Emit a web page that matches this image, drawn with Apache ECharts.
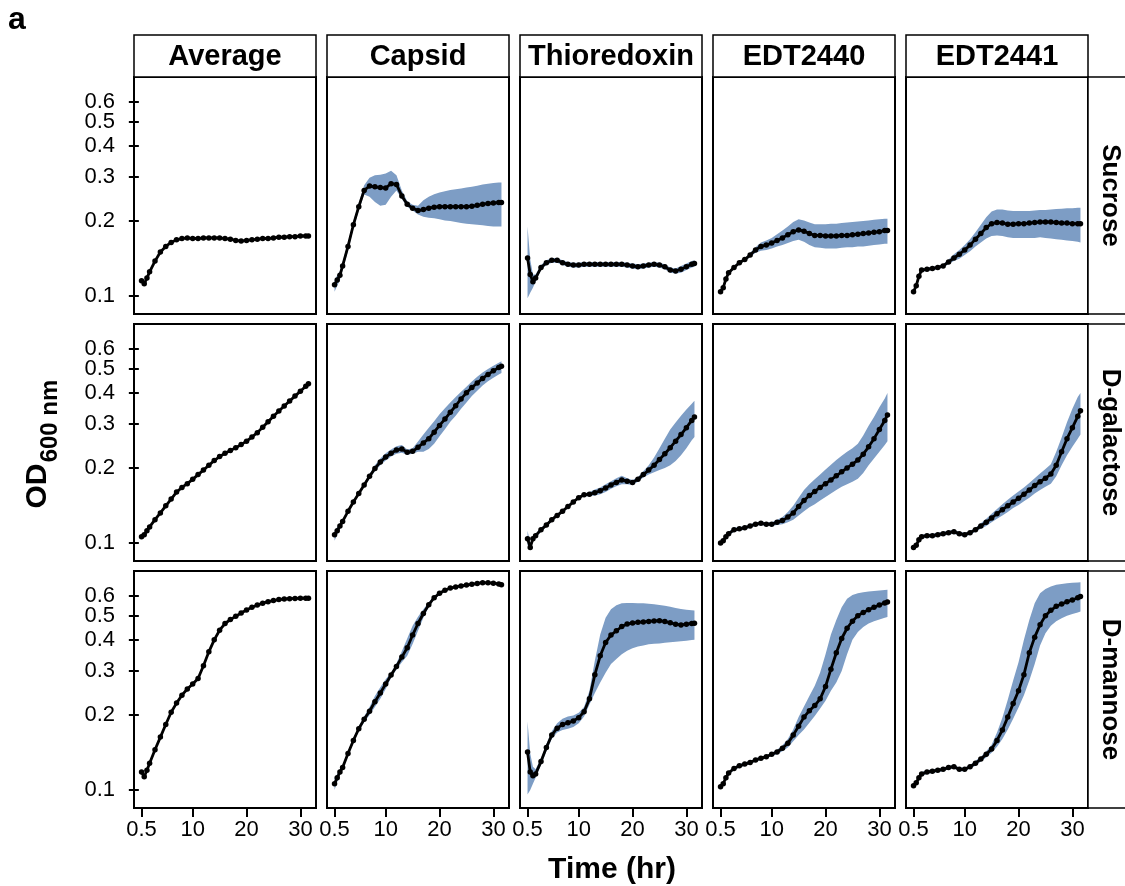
<!DOCTYPE html>
<html>
<head>
<meta charset="utf-8">
<script src="https://cdn.jsdelivr.net/npm/echarts@6/dist/echarts.min.js"></script>
<style>
  html, body { margin: 0; padding: 0; background: #fff; }
  #chart { width: 1125px; height: 886px; }
</style>
</head>
<body>
<div id="chart"></div>
<script>
// sampling times (hr)
const hours = [0.5, 1, 1.5, 2, 3, 4, 5, 6, 7, 8, 9, 10, 11, 12, 13, 14, 15, 16, 17, 18, 19, 20, 21, 22, 23, 24, 25, 26, 27, 28, 29, 30, 31, 31.5]
const strains = ['Average', 'Capsid', 'Thioredoxin', 'EDT2440', 'EDT2441']
const sugars = ['Sucrose', 'D-galactose', 'D-mannose']
const xTicks = [0.5, 10, 20, 30]
const yTicks = [0.1, 0.2, 0.3, 0.4, 0.5, 0.6]

// Sucrose
const avgSuc = [0.115, 0.112, 0.118, 0.125, 0.138, 0.150, 0.158, 0.164, 0.168, 0.170, 0.171, 0.170, 0.170, 0.171, 0.171, 0.171, 0.171, 0.170, 0.169, 0.167, 0.166, 0.167, 0.168, 0.169, 0.170, 0.170, 0.171, 0.172, 0.172, 0.173, 0.173, 0.174, 0.174, 0.174]
const capSuc = [0.111, 0.116, 0.121, 0.132, 0.158, 0.193, 0.228, 0.265, 0.276, 0.274, 0.272, 0.271, 0.282, 0.280, 0.252, 0.233, 0.225, 0.220, 0.222, 0.225, 0.227, 0.228, 0.228, 0.228, 0.228, 0.228, 0.228, 0.229, 0.231, 0.233, 0.235, 0.236, 0.237, 0.237]
const capSucLo = [0.104, 0.110, 0.116, 0.127, 0.152, 0.186, 0.220, 0.255, 0.250, 0.238, 0.230, 0.232, 0.250, 0.265, 0.245, 0.228, 0.220, 0.212, 0.208, 0.206, 0.205, 0.203, 0.201, 0.200, 0.198, 0.196, 0.195, 0.194, 0.193, 0.192, 0.191, 0.190, 0.190, 0.190]
const capSucHi = [0.116, 0.121, 0.126, 0.137, 0.164, 0.200, 0.236, 0.278, 0.298, 0.305, 0.306, 0.310, 0.318, 0.305, 0.265, 0.240, 0.232, 0.230, 0.242, 0.250, 0.256, 0.260, 0.263, 0.266, 0.268, 0.270, 0.272, 0.274, 0.277, 0.280, 0.282, 0.284, 0.285, 0.285]
const thiSuc = [0.142, 0.122, 0.114, 0.118, 0.130, 0.136, 0.139, 0.139, 0.136, 0.134, 0.133, 0.133, 0.134, 0.134, 0.134, 0.134, 0.134, 0.134, 0.134, 0.134, 0.133, 0.132, 0.131, 0.132, 0.133, 0.134, 0.133, 0.131, 0.127, 0.126, 0.128, 0.131, 0.134, 0.135]
const thiSucLo = [0.098, 0.103, 0.108, 0.114, 0.127, 0.133, 0.136, 0.136, 0.133, 0.131, 0.130, 0.130, 0.131, 0.131, 0.131, 0.131, 0.131, 0.131, 0.131, 0.131, 0.130, 0.129, 0.128, 0.129, 0.130, 0.131, 0.130, 0.128, 0.124, 0.123, 0.124, 0.127, 0.130, 0.131]
const thiSucHi = [0.190, 0.140, 0.122, 0.122, 0.133, 0.139, 0.142, 0.142, 0.139, 0.137, 0.136, 0.136, 0.137, 0.137, 0.137, 0.137, 0.137, 0.137, 0.137, 0.137, 0.136, 0.135, 0.134, 0.135, 0.136, 0.137, 0.136, 0.134, 0.130, 0.129, 0.132, 0.135, 0.138, 0.139]
const e40Suc = [0.104, 0.108, 0.117, 0.124, 0.130, 0.136, 0.140, 0.146, 0.153, 0.158, 0.160, 0.163, 0.167, 0.171, 0.176, 0.181, 0.184, 0.182, 0.178, 0.175, 0.175, 0.174, 0.174, 0.174, 0.175, 0.175, 0.176, 0.177, 0.178, 0.179, 0.180, 0.181, 0.183, 0.183]
const e40SucLo = [0.102, 0.106, 0.115, 0.122, 0.128, 0.134, 0.138, 0.143, 0.149, 0.152, 0.153, 0.155, 0.158, 0.160, 0.163, 0.166, 0.168, 0.165, 0.160, 0.157, 0.156, 0.155, 0.155, 0.155, 0.156, 0.157, 0.157, 0.158, 0.158, 0.159, 0.160, 0.161, 0.162, 0.162]
const e40SucHi = [0.106, 0.110, 0.119, 0.126, 0.132, 0.138, 0.142, 0.149, 0.157, 0.164, 0.167, 0.171, 0.177, 0.183, 0.190, 0.198, 0.203, 0.201, 0.197, 0.194, 0.194, 0.194, 0.195, 0.195, 0.196, 0.197, 0.198, 0.199, 0.200, 0.201, 0.202, 0.203, 0.204, 0.204]
const e41Suc = [0.104, 0.110, 0.120, 0.127, 0.128, 0.129, 0.130, 0.132, 0.137, 0.142, 0.147, 0.153, 0.160, 0.169, 0.178, 0.188, 0.195, 0.197, 0.196, 0.194, 0.194, 0.195, 0.195, 0.196, 0.197, 0.198, 0.198, 0.198, 0.197, 0.196, 0.196, 0.195, 0.195, 0.195]
const e41SucLo = [0.102, 0.108, 0.118, 0.125, 0.126, 0.127, 0.128, 0.130, 0.134, 0.138, 0.141, 0.146, 0.151, 0.158, 0.164, 0.170, 0.174, 0.175, 0.174, 0.172, 0.171, 0.171, 0.171, 0.171, 0.171, 0.172, 0.171, 0.170, 0.169, 0.168, 0.167, 0.166, 0.165, 0.164]
const e41SucHi = [0.106, 0.112, 0.122, 0.129, 0.130, 0.131, 0.132, 0.134, 0.140, 0.147, 0.153, 0.160, 0.169, 0.180, 0.193, 0.207, 0.218, 0.222, 0.222, 0.220, 0.219, 0.219, 0.219, 0.219, 0.220, 0.221, 0.221, 0.222, 0.223, 0.224, 0.225, 0.225, 0.226, 0.226]

// D-galactose
const avgGal = [0.106, 0.108, 0.112, 0.116, 0.124, 0.132, 0.141, 0.150, 0.160, 0.167, 0.173, 0.180, 0.188, 0.196, 0.205, 0.214, 0.222, 0.229, 0.235, 0.241, 0.248, 0.256, 0.266, 0.277, 0.291, 0.306, 0.322, 0.338, 0.354, 0.371, 0.388, 0.406, 0.425, 0.435]
const capGal = [0.108, 0.112, 0.117, 0.122, 0.134, 0.146, 0.158, 0.171, 0.185, 0.199, 0.211, 0.221, 0.229, 0.236, 0.238, 0.231, 0.233, 0.242, 0.252, 0.262, 0.278, 0.296, 0.314, 0.334, 0.355, 0.378, 0.400, 0.420, 0.438, 0.457, 0.474, 0.490, 0.505, 0.511]
const capGalLo = [0.102, 0.108, 0.114, 0.120, 0.132, 0.144, 0.156, 0.168, 0.181, 0.194, 0.205, 0.214, 0.222, 0.228, 0.230, 0.226, 0.228, 0.232, 0.232, 0.238, 0.250, 0.268, 0.286, 0.306, 0.324, 0.345, 0.366, 0.388, 0.408, 0.428, 0.445, 0.460, 0.474, 0.480]
const capGalHi = [0.112, 0.116, 0.120, 0.124, 0.136, 0.148, 0.160, 0.174, 0.189, 0.205, 0.218, 0.229, 0.237, 0.244, 0.247, 0.237, 0.240, 0.255, 0.272, 0.290, 0.308, 0.328, 0.347, 0.366, 0.385, 0.404, 0.423, 0.444, 0.464, 0.482, 0.498, 0.513, 0.528, 0.535]
const thiGal = [0.104, 0.096, 0.104, 0.107, 0.113, 0.118, 0.124, 0.129, 0.134, 0.140, 0.146, 0.152, 0.156, 0.157, 0.159, 0.162, 0.166, 0.171, 0.175, 0.179, 0.177, 0.175, 0.180, 0.188, 0.196, 0.205, 0.216, 0.228, 0.241, 0.256, 0.272, 0.290, 0.310, 0.320]
const thiGalLo = [0.098, 0.094, 0.102, 0.105, 0.111, 0.116, 0.122, 0.127, 0.132, 0.138, 0.144, 0.150, 0.154, 0.154, 0.155, 0.157, 0.160, 0.165, 0.169, 0.172, 0.172, 0.171, 0.176, 0.183, 0.188, 0.192, 0.196, 0.200, 0.205, 0.213, 0.225, 0.240, 0.258, 0.266]
const thiGalHi = [0.112, 0.100, 0.106, 0.109, 0.115, 0.120, 0.126, 0.131, 0.136, 0.142, 0.148, 0.154, 0.158, 0.160, 0.164, 0.167, 0.172, 0.177, 0.182, 0.186, 0.182, 0.179, 0.184, 0.194, 0.205, 0.220, 0.240, 0.262, 0.285, 0.304, 0.324, 0.343, 0.362, 0.372]
const e40Gal = [0.100, 0.102, 0.106, 0.109, 0.113, 0.114, 0.115, 0.117, 0.119, 0.120, 0.119, 0.119, 0.121, 0.123, 0.127, 0.132, 0.140, 0.148, 0.155, 0.161, 0.167, 0.173, 0.179, 0.186, 0.193, 0.200, 0.207, 0.215, 0.227, 0.243, 0.262, 0.285, 0.310, 0.326]
const e40GalLo = [0.098, 0.100, 0.104, 0.107, 0.111, 0.112, 0.113, 0.115, 0.117, 0.118, 0.117, 0.117, 0.118, 0.119, 0.121, 0.124, 0.129, 0.134, 0.139, 0.143, 0.148, 0.153, 0.158, 0.163, 0.168, 0.172, 0.176, 0.181, 0.191, 0.205, 0.218, 0.232, 0.247, 0.256]
const e40GalHi = [0.102, 0.104, 0.108, 0.111, 0.115, 0.116, 0.117, 0.119, 0.121, 0.122, 0.121, 0.121, 0.124, 0.127, 0.133, 0.141, 0.152, 0.163, 0.172, 0.180, 0.188, 0.197, 0.206, 0.215, 0.224, 0.232, 0.240, 0.250, 0.270, 0.295, 0.320, 0.350, 0.380, 0.399]
const e41Gal = [0.096, 0.098, 0.103, 0.106, 0.107, 0.107, 0.108, 0.109, 0.110, 0.111, 0.109, 0.108, 0.110, 0.113, 0.117, 0.121, 0.126, 0.131, 0.136, 0.141, 0.146, 0.151, 0.157, 0.163, 0.170, 0.176, 0.182, 0.189, 0.205, 0.232, 0.262, 0.290, 0.322, 0.339]
const e41GalLo = [0.094, 0.096, 0.101, 0.104, 0.105, 0.105, 0.106, 0.107, 0.108, 0.109, 0.107, 0.106, 0.108, 0.111, 0.114, 0.117, 0.121, 0.125, 0.129, 0.133, 0.138, 0.142, 0.147, 0.152, 0.158, 0.163, 0.168, 0.173, 0.185, 0.205, 0.225, 0.243, 0.262, 0.272]
const e41GalHi = [0.098, 0.100, 0.105, 0.108, 0.109, 0.109, 0.110, 0.111, 0.112, 0.113, 0.111, 0.110, 0.112, 0.115, 0.120, 0.125, 0.131, 0.137, 0.143, 0.149, 0.155, 0.161, 0.167, 0.174, 0.182, 0.190, 0.198, 0.207, 0.232, 0.265, 0.305, 0.345, 0.385, 0.399]

// D-mannose
const avgMan = [0.118, 0.113, 0.120, 0.128, 0.145, 0.163, 0.183, 0.205, 0.223, 0.240, 0.254, 0.266, 0.280, 0.315, 0.358, 0.400, 0.437, 0.465, 0.482, 0.497, 0.512, 0.527, 0.540, 0.551, 0.561, 0.569, 0.575, 0.580, 0.583, 0.585, 0.586, 0.587, 0.587, 0.587]
const capMan = [0.106, 0.112, 0.118, 0.123, 0.140, 0.158, 0.176, 0.192, 0.207, 0.226, 0.245, 0.266, 0.289, 0.313, 0.341, 0.372, 0.418, 0.465, 0.510, 0.553, 0.590, 0.615, 0.632, 0.645, 0.652, 0.658, 0.663, 0.668, 0.673, 0.678, 0.677, 0.675, 0.670, 0.665]
const capManLo = [0.100, 0.108, 0.115, 0.121, 0.137, 0.155, 0.172, 0.187, 0.200, 0.215, 0.232, 0.254, 0.282, 0.304, 0.325, 0.345, 0.385, 0.435, 0.490, 0.540, 0.580, 0.607, 0.625, 0.638, 0.646, 0.652, 0.657, 0.662, 0.667, 0.672, 0.671, 0.669, 0.664, 0.659]
const capManHi = [0.112, 0.116, 0.121, 0.125, 0.143, 0.161, 0.180, 0.197, 0.215, 0.238, 0.258, 0.278, 0.296, 0.322, 0.360, 0.405, 0.455, 0.495, 0.530, 0.566, 0.600, 0.623, 0.639, 0.652, 0.658, 0.664, 0.669, 0.674, 0.679, 0.684, 0.683, 0.681, 0.676, 0.671]
const thiMan = [0.142, 0.118, 0.114, 0.116, 0.130, 0.148, 0.166, 0.177, 0.183, 0.186, 0.189, 0.195, 0.206, 0.232, 0.290, 0.345, 0.390, 0.418, 0.435, 0.452, 0.463, 0.467, 0.470, 0.472, 0.474, 0.476, 0.477, 0.474, 0.468, 0.462, 0.459, 0.462, 0.465, 0.466]
const thiManLo = [0.096, 0.100, 0.106, 0.112, 0.126, 0.143, 0.160, 0.170, 0.174, 0.176, 0.179, 0.185, 0.197, 0.220, 0.245, 0.270, 0.295, 0.320, 0.335, 0.350, 0.362, 0.370, 0.376, 0.380, 0.384, 0.386, 0.387, 0.389, 0.391, 0.393, 0.395, 0.397, 0.399, 0.400]
const thiManHi = [0.188, 0.140, 0.124, 0.121, 0.134, 0.153, 0.172, 0.185, 0.193, 0.197, 0.199, 0.204, 0.215, 0.250, 0.330, 0.420, 0.490, 0.530, 0.550, 0.560, 0.562, 0.562, 0.561, 0.560, 0.558, 0.556, 0.552, 0.548, 0.543, 0.537, 0.532, 0.528, 0.525, 0.524]
const e40Man = [0.103, 0.106, 0.112, 0.117, 0.122, 0.125, 0.127, 0.129, 0.132, 0.134, 0.136, 0.139, 0.142, 0.147, 0.154, 0.166, 0.180, 0.196, 0.208, 0.218, 0.232, 0.260, 0.305, 0.355, 0.405, 0.445, 0.475, 0.500, 0.515, 0.528, 0.540, 0.552, 0.562, 0.567]
const e40ManLo = [0.101, 0.104, 0.110, 0.115, 0.120, 0.123, 0.125, 0.127, 0.130, 0.132, 0.134, 0.137, 0.139, 0.143, 0.148, 0.157, 0.166, 0.175, 0.186, 0.198, 0.212, 0.228, 0.250, 0.270, 0.300, 0.350, 0.400, 0.430, 0.450, 0.465, 0.475, 0.482, 0.490, 0.494]
const e40ManHi = [0.105, 0.108, 0.114, 0.119, 0.124, 0.127, 0.129, 0.131, 0.134, 0.136, 0.138, 0.141, 0.145, 0.151, 0.160, 0.175, 0.196, 0.216, 0.238, 0.262, 0.296, 0.350, 0.420, 0.480, 0.540, 0.585, 0.605, 0.615, 0.620, 0.625, 0.628, 0.631, 0.634, 0.635]
const e41Man = [0.104, 0.107, 0.112, 0.116, 0.118, 0.119, 0.120, 0.121, 0.123, 0.124, 0.121, 0.121, 0.124, 0.128, 0.133, 0.139, 0.146, 0.158, 0.174, 0.196, 0.222, 0.250, 0.290, 0.355, 0.410, 0.460, 0.500, 0.525, 0.545, 0.557, 0.568, 0.578, 0.590, 0.596]
const e41ManLo = [0.102, 0.105, 0.110, 0.114, 0.116, 0.117, 0.118, 0.119, 0.121, 0.122, 0.119, 0.119, 0.122, 0.125, 0.130, 0.135, 0.141, 0.149, 0.160, 0.175, 0.193, 0.214, 0.240, 0.275, 0.320, 0.380, 0.425, 0.455, 0.475, 0.488, 0.500, 0.508, 0.515, 0.519]
const e41ManHi = [0.106, 0.109, 0.114, 0.118, 0.120, 0.121, 0.122, 0.123, 0.125, 0.126, 0.123, 0.123, 0.126, 0.131, 0.136, 0.143, 0.152, 0.170, 0.195, 0.230, 0.275, 0.325, 0.400, 0.480, 0.560, 0.615, 0.640, 0.655, 0.665, 0.670, 0.674, 0.677, 0.679, 0.680]

// [mean, low, high] per row (sugar) and column (strain)
const panels = [
  [[avgSuc], [capSuc, capSucLo, capSucHi], [thiSuc, thiSucLo, thiSucHi], [e40Suc, e40SucLo, e40SucHi], [e41Suc, e41SucLo, e41SucHi]],
  [[avgGal], [capGal, capGalLo, capGalHi], [thiGal, thiGalLo, thiGalHi], [e40Gal, e40GalLo, e40GalHi], [e41Gal, e41GalLo, e41GalHi]],
  [[avgMan], [capMan, capManLo, capManHi], [thiMan, thiManLo, thiManHi], [e40Man, e40ManLo, e40ManHi], [e41Man, e41ManLo, e41ManHi]]
]

const FONT = "'Liberation Sans', Arial, Helvetica, sans-serif"
const RIBBON = '#7d9dc5'
const left0 = 134, colStep = 193, panelW = 182
const top0 = 77, rowStep = 247, panelH = 237
const Y_MIN = 0.0847, Y_MAX = 0.755

// echarts drops the 0.5/0.6 label pair when they touch; an extra hidden
// value at the top end keeps both (it is the one removed via showMaxLabel)
const yTickValues = yTicks.concat([Y_MAX - 0.001])

const chart = echarts.init(document.getElementById('chart'), null, { renderer: 'canvas' })

const grid = [], xAxis = [], yAxis = [], series = [], graphic = []

sugars.forEach((sugar, r) => {
  strains.forEach((strain, c) => {
    const k = grid.length
    const [mean, lo, hi] = panels[r][c]
    grid.push({
      left: left0 + c * colStep, top: top0 + r * rowStep,
      width: panelW, height: panelH,
      show: true, borderColor: '#000', borderWidth: 2, backgroundColor: '#fff'
    })
    xAxis.push({
      type: 'value', gridIndex: k, min: -0.9, max: 32.9,
      splitLine: { show: false }, axisLine: { show: false },
      axisTick: { show: r === 2, customValues: xTicks, length: 9, lineStyle: { color: '#000', width: 2 } },
      axisLabel: {
        show: r === 2, customValues: xTicks, margin: 11,
        showMinLabel: true, showMaxLabel: true,
        color: '#000', fontSize: 22, fontFamily: FONT,
        formatter: v => String(+v.toFixed(1))
      }
    })
    yAxis.push({
      type: 'log', logBase: 10, gridIndex: k, min: Y_MIN, max: Y_MAX,
      splitLine: { show: false }, axisLine: { show: false },
      axisTick: { show: c === 0, customValues: yTickValues, length: 10, lineStyle: { color: '#000', width: 2 } },
      axisLabel: {
        show: c === 0, customValues: yTickValues, margin: 19,
        showMinLabel: true, showMaxLabel: false,
        color: '#000', fontSize: 22, fontFamily: FONT,
        formatter: v => (v > 0.65 ? '' : String(+v.toFixed(1)))
      }
    })
    if (lo) {
      series.push({
        type: 'custom', xAxisIndex: k, yAxisIndex: k, silent: true, z: 1,
        data: hours.map((h, i) => [h, lo[i], hi[i]]),
        renderItem: (params, api) => {
          if (params.dataIndexInside !== 0) return null
          const n = params.dataInsideLength
          const upper = [], lower = []
          for (let i = 0; i < n; i++) {
            upper.push(api.coord([api.value(0, i), api.value(2, i)]))
            lower.push(api.coord([api.value(0, i), api.value(1, i)]))
          }
          return { type: 'polygon', shape: { points: upper.concat(lower.reverse()) }, style: { fill: RIBBON } }
        }
      })
    }
    series.push({
      type: 'line', xAxisIndex: k, yAxisIndex: k, silent: true, z: 3,
      data: hours.map((h, i) => [h, mean[i]]),
      symbol: 'circle', symbolSize: 5.5, showAllSymbol: true,
      lineStyle: { color: '#000', width: 2.8 },
      itemStyle: { color: '#000' }
    })
  })
})

// column strips
strains.forEach((strain, c) => {
  const x = left0 + c * colStep
  graphic.push({
    type: 'rect', shape: { x: x, y: 35, width: panelW, height: 42 },
    style: { fill: '#fff', stroke: '#000', lineWidth: 1.5 }
  })
  graphic.push({
    type: 'text', x: x + panelW / 2, y: 57,
    style: { text: strain, font: `bold 29px ${FONT}`, fill: '#000', textAlign: 'center', textVerticalAlign: 'middle' }
  })
})

// row strips
sugars.forEach((sugar, r) => {
  const y = top0 + r * rowStep
  graphic.push({
    type: 'rect', shape: { x: left0 + 4 * colStep + panelW, y: y, width: 80, height: panelH },
    style: { fill: '#fff', stroke: '#000', lineWidth: 1.5 }
  })
  graphic.push({
    type: 'text', x: 1110, y: y + panelH / 2, rotation: -Math.PI / 2,
    style: { text: sugar, font: `bold 26px ${FONT}`, fill: '#000', textAlign: 'center', textVerticalAlign: 'middle' }
  })
})

// axis titles and panel letter
graphic.push({
  type: 'text', x: 38, y: 486, rotation: Math.PI / 2,
  style: { text: 'OD', font: `bold 30px ${FONT}`, fill: '#000', textAlign: 'center', textVerticalAlign: 'middle' }
})
graphic.push({
  type: 'text', x: 50, y: 421, rotation: Math.PI / 2,
  style: { text: '600 nm', font: `bold 24px ${FONT}`, fill: '#000', textAlign: 'center', textVerticalAlign: 'middle' }
})
graphic.push({
  type: 'text', x: 612, y: 870,
  style: { text: 'Time (hr)', font: `bold 30px ${FONT}`, fill: '#000', textAlign: 'center', textVerticalAlign: 'middle' }
})
graphic.push({
  type: 'text', x: 8, y: 20,
  style: { text: 'a', font: `bold 32px ${FONT}`, fill: '#000', textAlign: 'left', textVerticalAlign: 'middle' }
})

chart.setOption({
  animation: false,
  backgroundColor: '#fff',
  grid, xAxis, yAxis, series, graphic
})
</script>
</body>
</html>
